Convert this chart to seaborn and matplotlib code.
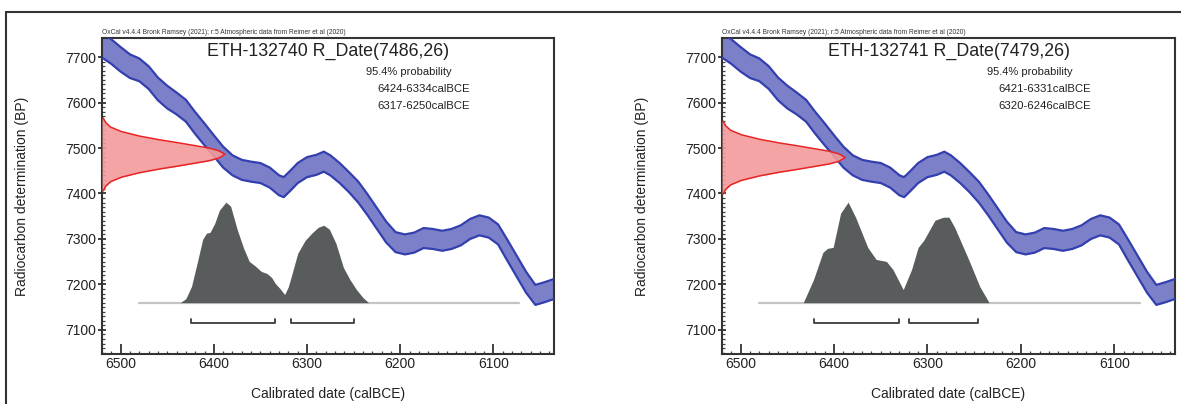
import numpy as np
import pandas as pd
import matplotlib
matplotlib.use("Agg")
import matplotlib.pyplot as plt
from matplotlib.lines import Line2D
from matplotlib.ticker import MultipleLocator
import seaborn as sns

# curva de calibracion (IntCal20): año calBCE, BP y semiancho
curva_anio = [6520, 6510, 6500, 6490, 6480, 6470, 6460, 6450, 6440, 6430, 6420, 6410,
              6400, 6390, 6380, 6370, 6360, 6350, 6340, 6330, 6325, 6318, 6310, 6300,
              6290, 6282, 6275, 6265, 6255, 6245, 6235, 6225, 6215, 6205, 6195, 6185,
              6175, 6165, 6155, 6145, 6135, 6125, 6115, 6105, 6095, 6085, 6075, 6065,
              6055, 6045, 6035]
curva_bp = [7726, 7712, 7695, 7680, 7672, 7655, 7630, 7612, 7598, 7582, 7555, 7530,
            7505, 7480, 7462, 7452, 7448, 7445, 7435, 7418, 7414, 7428, 7445, 7458,
            7463, 7470, 7462, 7445, 7425, 7403, 7375, 7345, 7315, 7293, 7288, 7292,
            7302, 7300, 7296, 7300, 7308, 7322, 7330, 7325, 7310, 7275, 7240, 7205,
            7177, 7183, 7190]
curva_sigma = [27, 27, 27, 26, 25, 25, 25, 25, 24, 24, 24, 24,
               23, 23, 22, 22, 22, 22, 22, 22, 22, 22, 22, 22,
               22, 22, 22, 22, 22, 23, 23, 23, 23, 22, 22, 22,
               22, 22, 22, 22, 22, 22, 22, 22, 22, 23, 23, 23,
               22, 22, 22]

# fechas radiocarbono
muestras = ["ETH-132740", "ETH-132741"]
r_fecha = [7486, 7479]
r_error = [26, 26]

# forma de la distribucion de la medida (desplazamiento BP, altura relativa)
rojo_desp = [-80, -70, -60, -50, -40, -32, -26, -20, -14, -8, 0, 8, 14, 20, 26, 32, 40, 50, 60, 70, 80]
rojo_alt = [0.01, 0.03, 0.07, 0.16, 0.31, 0.47, 0.61, 0.74, 0.87, 0.95, 1.0,
            0.95, 0.87, 0.74, 0.61, 0.47, 0.31, 0.16, 0.07, 0.03, 0.01]

# distribuciones calibradas (probabilidad relativa)
gris_anio_1 = [6436, 6430, 6424, 6418, 6412, 6408, 6404, 6399, 6394, 6387, 6382, 6375,
               6368, 6362, 6355, 6349, 6343, 6338, 6334, 6329, 6324, 6320, 6316, 6310,
               6302, 6295, 6288, 6282, 6276, 6269, 6261, 6254, 6247, 6240, 6234]
gris_prob_1 = [0, 0.04, 0.16, 0.39, 0.63, 0.69, 0.70, 0.79, 0.92, 1.00, 0.96, 0.73,
               0.54, 0.41, 0.36, 0.31, 0.29, 0.25, 0.19, 0.14, 0.08, 0.16, 0.29, 0.49,
               0.62, 0.69, 0.75, 0.77, 0.73, 0.59, 0.35, 0.23, 0.13, 0.05, 0]
gris_anio_2 = [6433, 6422, 6412, 6407, 6401, 6393, 6385, 6377, 6364, 6355, 6344, 6337,
               6326, 6317, 6310, 6304, 6292, 6283, 6277, 6271, 6256, 6244, 6234]
gris_prob_2 = [0, 0.23, 0.50, 0.54, 0.55, 0.89, 1.00, 0.85, 0.55, 0.43, 0.41, 0.33,
               0.13, 0.33, 0.55, 0.62, 0.82, 0.85, 0.85, 0.75, 0.43, 0.16, 0]

# rangos 95.4%
rangos_1 = [(6424, 6334), (6317, 6250)]
rangos_2 = [(6421, 6331), (6320, 6246)]

x_ticks = [6500, 6400, 6300, 6200, 6100]
y_ticks = [7100, 7200, 7300, 7400, 7500, 7600, 7700]

sns.set_theme(style="ticks")
plt.rcParams['font.family'] = ['Liberation Sans', 'DejaVu Sans']

curva = pd.DataFrame({"anio": curva_anio, "bp": curva_bp, "sigma": curva_sigma})
curva["alto"] = curva["bp"] + curva["sigma"]
curva["bajo"] = curva["bp"] - curva["sigma"]

fig = plt.figure(figsize=(11.81, 4.04), dpi=100)
posiciones = [[102 / 1181, 50 / 404, 452 / 1181, 316 / 404],
              [722 / 1181, 50 / 404, 453 / 1181, 316 / 404]]

datos = [(gris_anio_1, gris_prob_1, rangos_1), (gris_anio_2, gris_prob_2, rangos_2)]
base_bp = 7160
alto_bp = 221
pico_rojo = 132
tinta = "#222222"

for i in range(2):
    ax = fig.add_axes(posiciones[i])
    anios, probs, rangos = datos[i]

    # banda de calibracion
    ax.fill_between(curva["anio"], curva["bajo"], curva["alto"], color="#7b80c9", lw=0, zorder=2)
    sns.lineplot(data=curva, x="anio", y="alto", ax=ax, color="#333fae", lw=1.6, zorder=3)
    sns.lineplot(data=curva, x="anio", y="bajo", ax=ax, color="#333fae", lw=1.6, zorder=3)

    # medida radiocarbono en el eje y
    y_rojo = np.array(rojo_desp) + r_fecha[i]
    x_rojo = 6520 - np.array(rojo_alt) * pico_rojo
    ax.fill_betweenx(y_rojo, 6520, x_rojo, color="#f39a9a", alpha=0.9, lw=0, zorder=4)
    ax.plot(x_rojo, y_rojo, color="#e82323", lw=1.1, zorder=5)

    # distribucion calibrada
    ax.plot([6480, 6073], [base_bp, base_bp], color="#c4c4c4", lw=1.6, zorder=4)
    g = pd.DataFrame({"anio": anios, "bp": base_bp + np.array(probs) * alto_bp})
    ax.fill_between(g["anio"], base_bp, g["bp"], color="#595c5c", lw=0, zorder=5)

    # barras de rango
    for a, b in rangos:
        ax.plot([a, a, b, b], [7124, 7116, 7116, 7124], color="#3c3c3c", lw=1.3, zorder=5)

    ax.set_xlim(6520, 6035)
    ax.set_ylim(7047, 7742)
    ax.set_xticks(x_ticks)
    ax.set_yticks(y_ticks)
    ax.xaxis.set_minor_locator(MultipleLocator(10))
    ax.yaxis.set_minor_locator(MultipleLocator(10))
    ax.tick_params(axis="x", which="major", direction="in", length=7, width=1.2, pad=2,
                   labelsize=10, colors=tinta)
    ax.tick_params(axis="y", which="major", direction="inout", length=6, width=1.2, pad=1,
                   labelsize=10, colors=tinta)
    ax.tick_params(which="minor", direction="in", length=2.5, width=0.9, colors="#444444")
    for lado in ["left", "bottom", "top", "right"]:
        ax.spines[lado].set_visible(True)
        ax.spines[lado].set_linewidth(1.5)
        ax.spines[lado].set_color("#333333")
    ax.set_xlabel("Calibrated date (calBCE)", fontsize=10, color=tinta, labelpad=12)
    ax.set_ylabel("Radiocarbon determination (BP)", fontsize=10, color=tinta, labelpad=26)

    ax.text(0.5, 0.958, f"{muestras[i]} R_Date({r_fecha[i]},{r_error[i]})",
            transform=ax.transAxes, ha="center", va="center", fontsize=12.8, color=tinta)
    ax.text(0.585, 0.892, "95.4% probability", transform=ax.transAxes,
            ha="left", va="center", fontsize=8, color=tinta)
    for j, (a, b) in enumerate(rangos):
        ax.text(0.61, 0.839 - j * 0.055, f"{a}-{b}calBCE", transform=ax.transAxes,
                ha="left", va="center", fontsize=8.2, color=tinta)
    ax.text(0.0, 1.005, "OxCal v4.4.4 Bronk Ramsey (2021); r:5 Atmospheric data from Reimer et al (2020)",
            transform=ax.transAxes, ha="left", va="bottom", fontsize=4.8, color="#333333")

# marco exterior (solo arriba e izquierda)
fig.add_artist(Line2D([6 / 1181, 1], [1 - 12 / 404, 1 - 12 / 404], transform=fig.transFigure,
                      color="#333333", lw=1.5))
fig.add_artist(Line2D([6 / 1181, 6 / 1181], [0, 1 - 12 / 404], transform=fig.transFigure,
                      color="#333333", lw=1.5))

fig.savefig("out.png", dpi=100, facecolor="white")
